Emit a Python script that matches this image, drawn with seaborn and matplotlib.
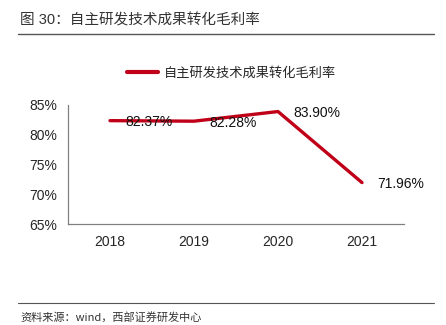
import matplotlib
matplotlib.use("Agg")
import matplotlib.pyplot as plt
import seaborn as sns
import pandas as pd
from matplotlib.lines import Line2D

years = ["2018", "2019", "2020", "2021"]
margin = [82.37, 82.28, 83.90, 71.96]
labels = ["82.37%", "82.28%", "83.90%", "71.96%"]
yticks = [65, 70, 75, 80, 85]
series_name = "自主研发技术成果转化毛利率"
title = "图 30：自主研发技术成果转化毛利率"
source = "资料来源：wind，西部证券研发中心"

sns.set_style("white")
plt.rcParams['font.family'] = ['Liberation Sans', 'Noto Sans CJK SC', 'DejaVu Sans']

df = pd.DataFrame({"year": years, "value": margin})
red = "#C00018"
gray = "#808080"

fig = plt.figure(figsize=(4.46, 3.25), dpi=100)
ax = fig.add_axes([68/446, 1-224/325, (404-68)/446, (224-105)/325])
sns.lineplot(data=df, x="year", y="value", ax=ax, color=red, linewidth=2.4,
             sort=False, legend=False)
ax.set_xlim(-0.5, 3.5)
ax.set_ylim(65, 85)
ax.set_yticks(yticks)
ax.set_yticklabels([f"{v}%" for v in yticks], fontsize=10)
ax.set_xticks(range(len(years)))
ax.set_xticklabels(years, fontsize=10)
ax.set_xticks([0.5, 1.5, 2.5, 3.5], minor=True)
ax.tick_params(axis='x', which='major', length=0, pad=8)
ax.tick_params(axis='x', which='minor', direction='in', length=4, color=gray, width=0.8)
ax.tick_params(axis='y', direction='in', length=4, color=gray, width=0.8, pad=8)
ax.set_xlabel("")
ax.set_ylabel("")
for s in ["top", "right"]:
    ax.spines[s].set_visible(False)
for s in ["left", "bottom"]:
    ax.spines[s].set_color(gray)
    ax.spines[s].set_linewidth(0.9)

for i, (v, t) in enumerate(zip(margin, labels)):
    ax.annotate(t, (i, v), xytext=(11, -1), textcoords="offset points",
                ha="left", va="center", fontsize=10, color="#111111")

# legend
handle = Line2D([0], [0], color=red, linewidth=3)
fig.legend([handle], [series_name], loc="center", bbox_to_anchor=(232/446, 1-73/325),
           frameon=False, handlelength=2.3, handletextpad=0.5,
           prop={'family': ['Noto Sans CJK SC', 'DejaVu Sans'], 'size': 9.5})

fig.text(20/446, 1-20/325, title, fontsize=10.5, va="center", ha="left",
         family=['Liberation Sans', 'Noto Sans CJK SC'], color="#333333")
fig.add_artist(Line2D([18/446, 434/446], [1-34/325, 1-34/325], color="#555555", linewidth=1))
fig.add_artist(Line2D([18/446, 434/446], [1-303/325, 1-303/325], color="#555555", linewidth=0.8))
fig.text(20/446, 1-317/325, source, fontsize=8, va="center", ha="left",
         family=['Noto Sans CJK SC', 'Liberation Sans'], color="#333333")

fig.savefig("out.png", dpi=100)
